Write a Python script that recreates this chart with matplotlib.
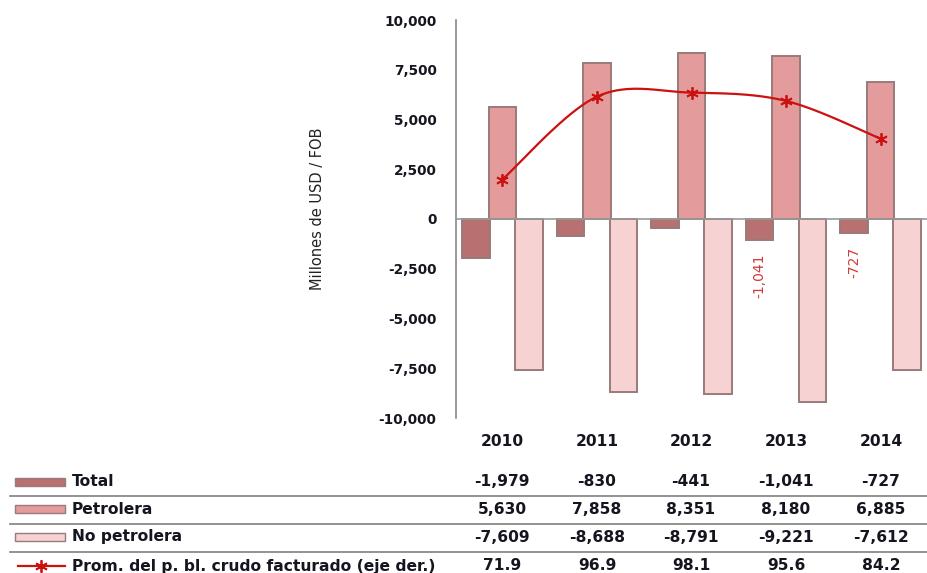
import numpy as np
import matplotlib
matplotlib.use("Agg")
import matplotlib.pyplot as plt
from matplotlib.lines import Line2D
from matplotlib.patches import Rectangle

years = ["2010", "2011", "2012", "2013", "2014"]
total = [-1979, -830, -441, -1041, -727]
petrolera = [5630, 7858, 8351, 8180, 6885]
no_petrolera = [-7609, -8688, -8791, -9221, -7612]
precio = [71.9, 96.9, 98.1, 95.6, 84.2]

series_names = ["Total", "Petrolera", "No petrolera",
                "Prom. del p. bl. crudo facturado (eje der.)"]
labelled_total = {3: "-1,041", 4: "-727"}

c_total = "#b87070"
c_pet = "#e39b9b"
c_nopet = "#f6d2d2"
c_line = "#cc1111"
edge = "#9a7a7a"
txt = "#151520"

plt.rcParams['font.family'] = ['DejaVu Sans']
W, H = 928, 573
fig = plt.figure(figsize=(W / 100, H / 100), dpi=100)

ax_l, ax_r, ax_t, ax_b = 456, 927, 20, 418
ax = fig.add_axes([ax_l / W, 1 - ax_b / H, (ax_r - ax_l) / W, (ax_b - ax_t) / H])
x = np.arange(len(years))
bw = 0.29
off = 0.28
ax.bar(x - off, total, bw, color=c_total, edgecolor=edge, linewidth=1.4, zorder=2)
ax.bar(x, petrolera, bw, color=c_pet, edgecolor=edge, linewidth=1.4, zorder=2)
ax.bar(x + off, no_petrolera, bw, color=c_nopet, edgecolor=edge, linewidth=1.4, zorder=2)

ax.set_xlim(-0.49, 4.49)
ax.set_ylim(-10000, 10000)
ax.set_yticks(np.arange(-10000, 10001, 2500))
ax.set_yticklabels([f"{v:,}" for v in np.arange(-10000, 10001, 2500)],
                   fontsize=9.8, fontweight='bold', color=txt)
ax.tick_params(axis='y', length=0, pad=14)
ax.set_xticks([])
for s in ['top', 'right', 'bottom']:
    ax.spines[s].set_visible(False)
ax.spines['left'].set_color('#888888')
ax.spines['left'].set_linewidth(1.2)
ax.axhline(0, color='#999999', linewidth=1.2, zorder=3)

for i, lab in labelled_total.items():
    ax.annotate(lab, (x[i] - off, total[i]), xytext=(0, -10), textcoords='offset points',
                rotation=90, ha='center', va='top', color='#d03a3a', fontsize=10,
                family=['Liberation Sans Narrow', 'DejaVu Sans'])

# secondary axis line (smoothed, Bezier Catmull-Rom like Excel)
ax2 = ax.twinx()
ax2.set_ylim(0, 120)
ax2.set_xlim(ax.get_xlim())
ax2.axis('off')
p = np.array(precio, dtype=float)
xs, ys = [], []
n = len(p)
for i in range(n - 1):
    p0 = np.array([x[max(i - 1, 0)], p[max(i - 1, 0)]], float)
    p1 = np.array([x[i], p[i]], float)
    p2 = np.array([x[i + 1], p[i + 1]], float)
    p3 = np.array([x[min(i + 2, n - 1)], p[min(i + 2, n - 1)]], float)
    c1 = p1 + (p2 - p0) / 6
    c2 = p2 - (p3 - p1) / 6
    t = np.linspace(0, 1, 40)[:, None]
    b = (1 - t) ** 3 * p1 + 3 * (1 - t) ** 2 * t * c1 + 3 * (1 - t) * t ** 2 * c2 + t ** 3 * p2
    xs.extend(b[:, 0]); ys.extend(b[:, 1])
ax2.plot(xs, ys, color=c_line, linewidth=1.6, zorder=5)
ax2.plot(x, p, linestyle='none', marker=(6, 2, 0), markersize=9, markeredgewidth=1.3,
         color=c_line, zorder=6)

fig.text(318 / W, 1 - 209 / H, "Millones de USD / FOB", rotation=90, ha='center', va='center',
         fontsize=10.5, color='#222222', family=['Liberation Sans Narrow', 'DejaVu Sans'])

# data table
fs_tab = 11.2
col_px = [502, 597, 691, 786, 881]
for cx, yr in zip(col_px, years):
    fig.text(cx / W, 1 - 442 / H, yr, ha='center', va='center', fontsize=fs_tab,
             fontweight='bold', color=txt)

rows_y = [482, 509, 537, 566]
rows_vals = [
    [f"{v:,}" for v in total],
    [f"{v:,}" for v in petrolera],
    [f"{v:,}" for v in no_petrolera],
    [f"{v:.1f}" for v in precio],
]
swatch_colors = [c_total, c_pet, c_nopet]
for r, (ry, name, vals) in enumerate(zip(rows_y, series_names, rows_vals)):
    fig.text(72 / W, 1 - ry / H, name, ha='left', va='center', fontsize=fs_tab,
             fontweight='bold', color=txt)
    for cx, v in zip(col_px, vals):
        fig.text(cx / W, 1 - ry / H, v, ha='center', va='center', fontsize=fs_tab,
                 fontweight='bold', color=txt)
    if r < 3:
        fig.add_artist(Rectangle((15 / W, 1 - (ry + 4) / H), 50 / W, 8 / H,
                                 transform=fig.transFigure, facecolor=swatch_colors[r],
                                 edgecolor=edge, linewidth=1.0))
    else:
        fig.add_artist(Line2D([18 / W, 65 / W], [1 - ry / H] * 2, transform=fig.transFigure,
                              color=c_line, linewidth=1.6))
        fig.add_artist(Line2D([41 / W], [1 - ry / H], transform=fig.transFigure,
                              color=c_line, marker=(6, 2, 0), markersize=9,
                              markeredgewidth=1.3, linestyle='none'))

for ly in [496, 524, 552]:
    fig.add_artist(Line2D([10 / W, 927 / W], [1 - ly / H] * 2, transform=fig.transFigure,
                          color='#8a8a8a', linewidth=1.3))

fig.savefig("out.png", dpi=100)
